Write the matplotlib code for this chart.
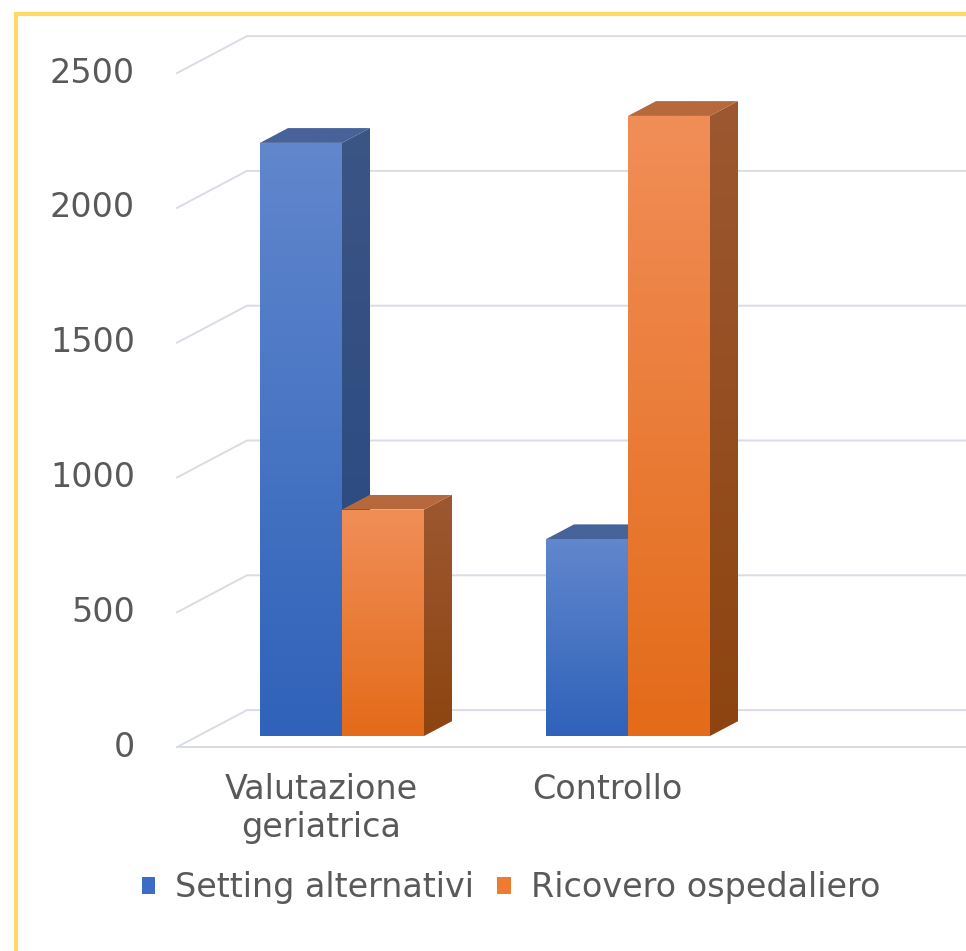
import numpy as np
import matplotlib.pyplot as plt
from matplotlib.patches import Polygon, Rectangle, Patch
from matplotlib.colors import LinearSegmentedColormap

categorie = ['Valutazione\ngeriatrica', 'Controllo']
serie = ['Setting alternativi', 'Ricovero ospedaliero']
setting_alternativi = [2200, 730]
ricovero_ospedaliero = [840, 2300]
tick_valori = [0, 500, 1000, 1500, 2000, 2500]

# geometria (pixel) della finta prospettiva 3D
W, H = 966, 951
PX_X = 286.0              # pixel tra una categoria e l'altra
PX_Y = 674 / 2500         # pixel per unita' di valore
X0_PX, Y0_PX = 342, 736   # origine sul piano frontale delle barre
DX, DY = 70 / PX_X, 37 / PX_Y   # profondita' totale del pavimento
X_WALL = (198 - X0_PX) / PX_X
BAR_W = 82 / PX_X
TESTO = '#595959'
GRIGLIA = '#d9dce5'

colori = {
    'blu': dict(front=('#6187cd', '#2f62b9'), side=('#3b5585', '#26477f'), top='#47639a'),
    'arancio': dict(front=('#f18e58', '#e36b19'), side=('#9d5831', '#8d4410'), top='#b6693c'),
}


def off(x, y, f):
    return x + f * DX, y + f * DY


def faccia(ax, verts, c_top, c_bottom, z):
    poly = Polygon(verts, closed=True, facecolor='none', edgecolor='none', zorder=z)
    ax.add_patch(poly)
    xs, ys = zip(*verts)
    cmap = LinearSegmentedColormap.from_list('g', [c_bottom, c_top])
    grad = np.linspace(0, 1, 256).reshape(-1, 1)
    im = ax.imshow(grad, cmap=cmap, origin='lower', aspect='auto',
                   extent=(min(xs), max(xs), min(ys), max(ys)),
                   interpolation='bilinear', zorder=z)
    im.set_clip_path(poly)


def barra(ax, x0, x1, h, col, z):
    d = 0.4
    bx, by = d * DX, d * DY
    faccia(ax, [(x0, 0), (x1, 0), (x1, h), (x0, h)], *col['front'], z)
    faccia(ax, [(x1, 0), (x1 + bx, by), (x1 + bx, h + by), (x1, h)], *col['side'], z)
    faccia(ax, [(x0, h), (x1, h), (x1 + bx, h + by), (x0 + bx, h + by)],
           col['top'], col['top'], z)


fig = plt.figure(figsize=(W / 100, H / 100), dpi=100)
ax = fig.add_axes([0, 0, 1, 1])
xlim = (-X0_PX / PX_X, (W - X0_PX) / PX_X)
ylim = (-(H - Y0_PX) / PX_Y, Y0_PX / PX_Y)

# griglia sulla parete di fondo + spigoli laterali
for v in tick_valori:
    fx, fy = off(X_WALL, v, -0.3)
    bx, by = off(X_WALL, v, 0.7)
    ax.plot([fx, bx, xlim[1] + 1], [fy, by, by], color=GRIGLIA, lw=1.4, zorder=1)
    ax.text(fx - 42 / PX_X, fy, str(v), ha='right', va='center',
            fontsize=24, color=TESTO)
fx, fy = off(X_WALL, 0, -0.3)
ax.plot([fx, xlim[1] + 1], [fy, fy], color=GRIGLIA, lw=1.4, zorder=1)

z = 2
for i in range(len(categorie)):
    barra(ax, i - BAR_W, i, setting_alternativi[i], colori['blu'], z)
    barra(ax, i, i + BAR_W, ricovero_ospedaliero[i], colori['arancio'], z + 1)
    z += 2
    lx, ly = off(i, 0, -0.3)
    ax.text(lx, ly - 26 / PX_Y, categorie[i], ha='center', va='top',
            fontsize=24, color=TESTO, linespacing=1.2)

handles = [Patch(facecolor='#3c6cc4'), Patch(facecolor='#ee7b30')]
ax.legend(handles, serie, loc='center', bbox_to_anchor=(511 / W, 1 - 888 / H),
          ncol=2, frameon=False, fontsize=24, labelcolor=TESTO,
          handlelength=0.4, handleheight=0.4, handletextpad=0.6,
          columnspacing=0.7)

ax.set_xlim(*xlim)
ax.set_ylim(*ylim)
ax.axis('off')

# cornice gialla (solo lato sinistro e superiore visibili)
top = 1 - 13.5 / H
fig.add_artist(Rectangle((16 / W, -0.5), 2, top + 0.5, fill=False,
                         edgecolor='#ffd966', lw=3, transform=fig.transFigure))

fig.savefig('out.png', dpi=100)
